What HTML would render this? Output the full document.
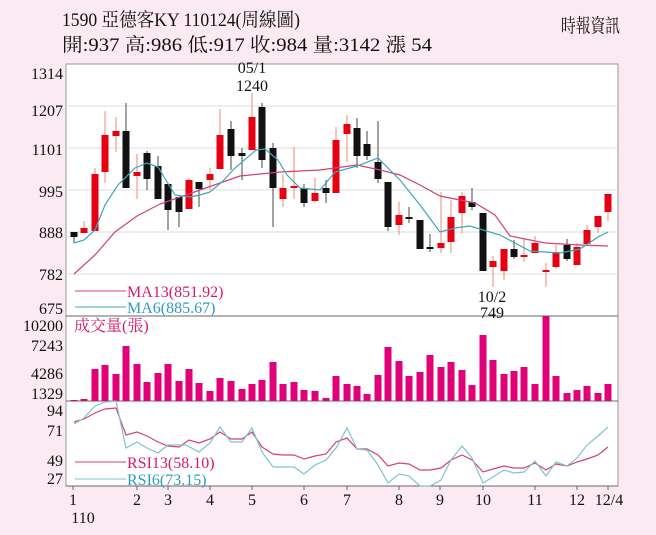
<!DOCTYPE html>
<html><head><meta charset="utf-8"><style>
body{margin:0;background:#fbeaf1;}
svg{display:block;font-family:"Liberation Serif","Noto Serif CJK SC",serif;}
</style></head><body>
<svg width="656" height="535" viewBox="0 0 656 535">
<rect width="656" height="535" fill="#fbeaf1"/>
<text x="62" y="26" font-size="19" fill="#111" textLength="238" lengthAdjust="spacingAndGlyphs">1590  亞德客KY 110124(周線圖)</text>
<text x="62" y="51" font-size="19" fill="#111" textLength="370" lengthAdjust="spacingAndGlyphs">開:937 高:986 低:917 收:984 量:3142 漲 54</text>
<text x="561" y="32" font-size="19" fill="#111" textLength="59" lengthAdjust="spacingAndGlyphs">時報資訊</text>
<rect x="66" y="64" width="552" height="422" fill="#fff" stroke="#999" stroke-width="1"/>
<g stroke="#ddd" stroke-width="1">
<line x1="66" x2="618" y1="106" y2="106"/><line x1="66" x2="618" y1="148" y2="148"/><line x1="66" x2="618" y1="190" y2="190"/><line x1="66" x2="618" y1="232" y2="232"/><line x1="66" x2="618" y1="274" y2="274"/>
</g>
<line x1="66" x2="618" y1="316" y2="316" stroke="#666"/>
<line x1="66" x2="618" y1="401" y2="401" stroke="#666"/>
<line x1="66" x2="618" y1="486" y2="486" stroke="#666"/>
<g font-size="16" fill="#111" text-anchor="end">
<text x="63" y="79">1314</text><text x="63" y="116">1207</text><text x="63" y="155">1101</text><text x="63" y="197">995</text><text x="63" y="238">888</text><text x="63" y="280">782</text><text x="63" y="314">675</text>
<text x="63" y="331">10200</text><text x="63" y="351">7243</text><text x="63" y="379">4286</text><text x="63" y="399">1329</text>
<text x="63" y="416">94</text><text x="63" y="436">71</text><text x="63" y="466">49</text><text x="63" y="484">27</text>
</g>
<g font-size="16" fill="#111" text-anchor="middle">
<text x="252" y="73">05/1</text><text x="252" y="91">1240</text>
<text x="492" y="302">10/2</text><text x="492" y="318">749</text>
<text x="73" y="505">1</text><text x="83" y="523">110</text><text x="137" y="505">2</text><text x="168" y="505">3</text><text x="210" y="505">4</text><text x="252" y="505">5</text><text x="304" y="505">6</text><text x="347" y="505">7</text><text x="399" y="505">8</text><text x="440" y="505">9</text><text x="483" y="505">10</text><text x="535" y="505">11</text><text x="577" y="505">12</text><text x="609" y="505">12/4</text>
</g>
<g stroke-width="1.2">
<g stroke="#666">
<line x1="74" x2="74" y1="232" y2="243"/><line x1="126" x2="126" y1="103" y2="188"/><line x1="147" x2="147" y1="151" y2="190"/><line x1="158" x2="158" y1="156" y2="199"/><line x1="168" x2="168" y1="184" y2="230"/><line x1="179" x2="179" y1="197" y2="227"/><line x1="199" x2="199" y1="182" y2="207"/><line x1="231" x2="231" y1="121" y2="170"/><line x1="242" x2="242" y1="148" y2="180"/><line x1="262" x2="262" y1="103" y2="168"/><line x1="273" x2="273" y1="143" y2="227"/><line x1="304" x2="304" y1="184" y2="207"/><line x1="326" x2="326" y1="180" y2="203"/><line x1="357" x2="357" y1="118" y2="168"/><line x1="367" x2="367" y1="131" y2="160"/><line x1="378" x2="378" y1="121" y2="183"/><line x1="388" x2="388" y1="182" y2="231"/><line x1="409" x2="409" y1="207" y2="223"/><line x1="430" x2="430" y1="234" y2="252"/><line x1="472" x2="472" y1="188" y2="210"/><line x1="514" x2="514" y1="240" y2="259"/><line x1="567" x2="567" y1="239" y2="261"/>
</g>
<g stroke="#eea080">
<line x1="84" x2="84" y1="221" y2="233"/><line x1="95" x2="95" y1="168" y2="231"/><line x1="105" x2="105" y1="111" y2="183"/><line x1="116" x2="116" y1="117" y2="152"/><line x1="137" x2="137" y1="154" y2="199"/><line x1="189" x2="189" y1="178" y2="209"/><line x1="210" x2="210" y1="168" y2="190"/><line x1="220" x2="220" y1="109" y2="169"/><line x1="252" x2="252" y1="93" y2="150"/><line x1="283" x2="283" y1="174" y2="207"/><line x1="294" x2="294" y1="147" y2="199"/><line x1="315" x2="315" y1="178" y2="203"/><line x1="336" x2="336" y1="127" y2="193"/><line x1="347" x2="347" y1="115" y2="162"/><line x1="399" x2="399" y1="202" y2="235"/><line x1="441" x2="441" y1="192" y2="253"/><line x1="451" x2="451" y1="200" y2="253"/><line x1="462" x2="462" y1="192" y2="233"/><line x1="493" x2="493" y1="256" y2="287"/><line x1="504" x2="504" y1="249" y2="280"/><line x1="524" x2="524" y1="238" y2="262"/><line x1="535" x2="535" y1="236" y2="253"/><line x1="546" x2="546" y1="263" y2="287"/><line x1="556" x2="556" y1="245" y2="269"/><line x1="577" x2="577" y1="243" y2="265"/><line x1="587" x2="587" y1="225" y2="244"/><line x1="598" x2="598" y1="216" y2="233"/><line x1="608" x2="608" y1="194" y2="221"/>
</g></g>
<g fill="#111">
<rect x="70.5" y="232" width="7" height="5"/><rect x="122.5" y="131" width="7" height="57"/><rect x="143.5" y="153" width="7" height="26"/><rect x="154.5" y="166" width="7" height="33"/><rect x="164.5" y="184" width="7" height="26"/><rect x="175.5" y="197" width="7" height="15"/><rect x="195.5" y="182" width="7" height="7"/><rect x="227.5" y="129" width="7" height="27"/><rect x="238.5" y="153" width="7" height="3"/><rect x="258.5" y="107" width="7" height="53"/><rect x="269.5" y="148" width="7" height="40"/><rect x="300.5" y="188" width="7" height="15"/><rect x="322.5" y="188" width="7" height="5"/><rect x="353.5" y="128" width="7" height="28"/><rect x="363.5" y="144" width="7" height="12"/><rect x="374.5" y="162" width="7" height="17"/><rect x="384.5" y="182" width="7" height="45"/><rect x="405.5" y="217" width="7" height="2"/><rect x="416.5" y="220" width="7" height="29"/><rect x="426.5" y="247" width="7" height="2"/><rect x="468.5" y="202" width="7" height="5"/><rect x="479.5" y="213" width="7" height="58"/><rect x="510.5" y="249" width="7" height="8"/><rect x="563.5" y="245" width="7" height="14"/>
</g>
<g fill="#e60012">
<rect x="80.5" y="228" width="7" height="5"/><rect x="91.5" y="174" width="7" height="57"/><rect x="101.5" y="135" width="7" height="37"/><rect x="112.5" y="131" width="7" height="5"/><rect x="133.5" y="172" width="7" height="4"/><rect x="185.5" y="180" width="7" height="29"/><rect x="206.5" y="174" width="7" height="6"/><rect x="216.5" y="135" width="7" height="34"/><rect x="248.5" y="117" width="7" height="33"/><rect x="279.5" y="188" width="7" height="11"/><rect x="290.5" y="186" width="7" height="2"/><rect x="311.5" y="193" width="7" height="8"/><rect x="332.5" y="140" width="7" height="53"/><rect x="343.5" y="124" width="7" height="10"/><rect x="395.5" y="215" width="7" height="10"/><rect x="437.5" y="243" width="7" height="5"/><rect x="447.5" y="217" width="7" height="25"/><rect x="458.5" y="196" width="7" height="17"/><rect x="489.5" y="261" width="7" height="6"/><rect x="500.5" y="249" width="7" height="22"/><rect x="520.5" y="255" width="7" height="2"/><rect x="531.5" y="243" width="7" height="10"/><rect x="542.5" y="270" width="7" height="2"/><rect x="552.5" y="252" width="7" height="15"/><rect x="573.5" y="247" width="7" height="18"/><rect x="583.5" y="230" width="7" height="14"/><rect x="594.5" y="216" width="7" height="11"/><rect x="604.5" y="194" width="7" height="18"/>
</g>
<polyline fill="none" stroke="#d2407a" stroke-width="1.2" points="74,274 95,255 115,232 137,216 160,204 200,190 240,176 280,172 320,170 357,165 380,170 400,175 420,185 440,196 475,203 495,215 510,236 545,243 580,245 608,246"/>
<polyline fill="none" stroke="#3fa5b8" stroke-width="1.2" points="74,243 84,240 95,230 105,205 118,185 135,168 147,163 158,167 175,195 190,197 200,195 210,192 222,182 235,168 256,150 265,149 278,160 287,175 300,188 320,190 335,172 357,166 378,158 400,180 420,205 440,232 455,228 470,226 500,235 530,251 560,253 580,249 598,237 608,232"/>
<line x1="75" x2="126" y1="291" y2="291" stroke="#d2407a"/>
<line x1="75" x2="126" y1="307" y2="307" stroke="#3fa5b8"/>
<text x="127" y="297" font-size="16" fill="#d6186e">MA13(851.92)</text>
<text x="127" y="313" font-size="16" fill="#2f9cbd">MA6(885.67)</text>
<text x="74" y="331" font-size="16" fill="#d6186e">成交量(張)</text>
<g fill="#e0007a">
<rect x="70.5" y="400" width="7" height="1"/><rect x="80.5" y="399" width="7" height="2"/><rect x="91.5" y="369" width="7" height="32"/><rect x="101.5" y="365" width="7" height="36"/><rect x="112.5" y="374" width="7" height="27"/><rect x="122.5" y="346" width="7" height="55"/><rect x="133.5" y="364" width="7" height="37"/><rect x="143.5" y="382" width="7" height="19"/><rect x="154.5" y="373" width="7" height="28"/><rect x="164.5" y="364" width="7" height="37"/><rect x="175.5" y="381" width="7" height="20"/><rect x="185.5" y="369" width="7" height="32"/><rect x="195.5" y="383" width="7" height="18"/><rect x="206.5" y="391" width="7" height="10"/><rect x="216.5" y="378" width="7" height="23"/><rect x="227.5" y="381" width="7" height="20"/><rect x="238.5" y="389" width="7" height="12"/><rect x="248.5" y="384" width="7" height="17"/><rect x="258.5" y="380" width="7" height="21"/><rect x="269.5" y="362" width="7" height="39"/><rect x="279.5" y="384" width="7" height="17"/><rect x="290.5" y="382" width="7" height="19"/><rect x="300.5" y="390" width="7" height="11"/><rect x="311.5" y="391" width="7" height="10"/><rect x="322.5" y="398" width="7" height="3"/><rect x="332.5" y="376" width="7" height="25"/><rect x="343.5" y="384" width="7" height="17"/><rect x="353.5" y="386" width="7" height="15"/><rect x="363.5" y="394" width="7" height="7"/><rect x="374.5" y="375" width="7" height="26"/><rect x="384.5" y="347" width="7" height="54"/><rect x="395.5" y="361" width="7" height="40"/><rect x="405.5" y="376" width="7" height="25"/><rect x="416.5" y="372" width="7" height="29"/><rect x="426.5" y="355" width="7" height="46"/><rect x="437.5" y="367" width="7" height="34"/><rect x="447.5" y="362" width="7" height="39"/><rect x="458.5" y="370" width="7" height="31"/><rect x="468.5" y="385" width="7" height="16"/><rect x="479.5" y="335" width="7" height="66"/><rect x="489.5" y="360" width="7" height="41"/><rect x="500.5" y="374" width="7" height="27"/><rect x="510.5" y="371" width="7" height="30"/><rect x="520.5" y="367" width="7" height="34"/><rect x="531.5" y="384" width="7" height="17"/><rect x="542.5" y="316" width="7" height="85"/><rect x="552.5" y="376" width="7" height="25"/><rect x="563.5" y="393" width="7" height="8"/><rect x="573.5" y="390" width="7" height="11"/><rect x="583.5" y="386" width="7" height="15"/><rect x="594.5" y="393" width="7" height="8"/><rect x="604.5" y="384" width="7" height="17"/>
</g>
<polyline fill="none" stroke="#d2407a" stroke-width="1.2" points="74,422 84,419 95,413 105,409 116,408 126,435 137,432 147,436 158,442 168,446 179,447 189,440 199,443 210,439 220,432 231,439 242,439 252,432 262,447 273,454 283,455 294,455 304,459 315,456 326,454 336,442 347,438 357,449 367,449 378,455 388,466 399,463 409,464 420,470 430,470 441,468 451,460 462,455 472,460 483,472 493,469 504,466 514,468 524,468 535,463 546,470 556,464 567,466 577,462 587,459 598,455 608,447"/>
<polyline fill="none" stroke="#7ec3cf" stroke-width="1.2" points="74,424 84,418 95,406 105,402 116,401 126,448 137,442 147,448 158,453 168,445 186,445 199,452 210,443 220,427 231,442 242,442 252,428 262,452 273,467 283,467 294,467 304,474 315,465 326,460 336,448 347,428 357,449 367,450 378,465 388,483 399,474 409,476 420,486 430,486 441,480 451,460 462,446 472,458 483,483 493,477 504,470 514,473 524,472 535,461 546,476 556,462 567,466 577,458 587,445 598,436 608,427"/>
<line x1="75" x2="126" y1="462" y2="462" stroke="#d2407a"/>
<line x1="75" x2="126" y1="479" y2="479" stroke="#7ec3cf"/>
<text x="127" y="468" font-size="16" fill="#d6186e">RSI13(58.10)</text>
<text x="127" y="485" font-size="16" fill="#2f9cbd">RSI6(73.15)</text>
<g stroke="#666">
<line x1="73" x2="73" y1="486" y2="490"/><line x1="137" x2="137" y1="486" y2="490"/><line x1="168" x2="168" y1="486" y2="490"/><line x1="210" x2="210" y1="486" y2="490"/><line x1="252" x2="252" y1="486" y2="490"/><line x1="304" x2="304" y1="486" y2="490"/><line x1="347" x2="347" y1="486" y2="490"/><line x1="399" x2="399" y1="486" y2="490"/><line x1="440" x2="440" y1="486" y2="490"/><line x1="483" x2="483" y1="486" y2="490"/><line x1="535" x2="535" y1="486" y2="490"/><line x1="577" x2="577" y1="486" y2="490"/><line x1="608" x2="608" y1="486" y2="490"/>
</g>
</svg>
</body></html>
